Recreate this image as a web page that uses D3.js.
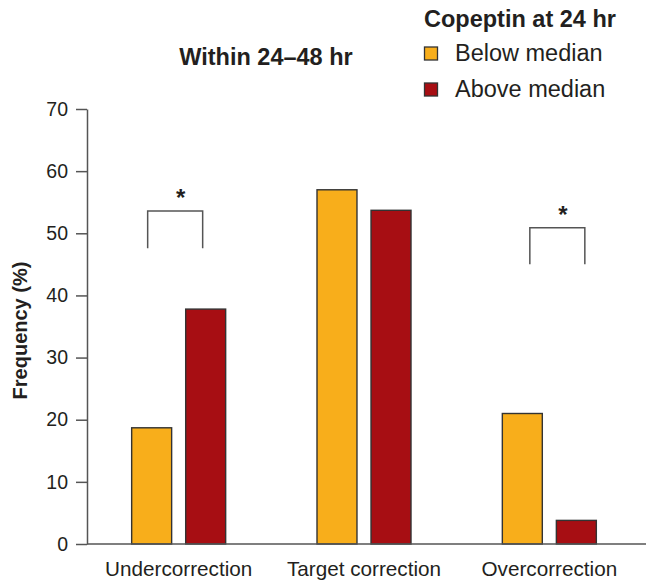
<!DOCTYPE html>
<html>
<head>
<meta charset="utf-8">
<script src="https://cdn.jsdelivr.net/npm/d3@7"></script>
<style>
  html, body { margin: 0; padding: 0; background: #fff; }
  svg { display: block; font-family: "Liberation Sans", Arial, Helvetica, sans-serif; }
</style>
</head>
<body>
<svg id="chart" width="646" height="583"></svg>
<script>
// Correction categories along the x axis
const categories = ["Undercorrection", "Target correction", "Overcorrection"];
// Copeptin groups (at 24 hr)
const seriesNames = ["Below median", "Above median"];
// Frequency (%) of each category, per group
const belowMedian = [18.7, 57.0, 21.0];
const aboveMedian = [37.8, 53.7, 3.8];
// y-axis ticks
const yTicks = [0, 10, 20, 30, 40, 50, 60, 70];
// Significance brackets: category, top and foot of the bracket (in %), label
const sigCategories = ["Undercorrection", "Overcorrection"];
const sigTop = [53.6, 50.9];
const sigFoot = [47.6, 45.0];
const sigLabel = ["*", "*"];

const colors = { "Below median": "#F8AE1B", "Above median": "#A70E13" };
const textColor = "#231f20";
const axisColor = "#555";

const svg = d3.select("#chart");

const x = d3.scaleBand().domain(categories).range([86, 642]).padding(0);
const xSub = d3.scaleBand().domain(seriesNames).range([-47, 47]).paddingInner(0.26).paddingOuter(0);
const y = d3.scaleLinear().domain([0, 70]).range([544, 109]);

const rows = [];
categories.forEach((c, i) => {
  rows.push({ cat: c, series: "Below median", value: belowMedian[i] });
  rows.push({ cat: c, series: "Above median", value: aboveMedian[i] });
});

// Bars
svg.append("g").selectAll("rect").data(rows).join("rect")
  .attr("x", d => x(d.cat) + x.bandwidth() / 2 + xSub(d.series))
  .attr("y", d => y(d.value))
  .attr("width", xSub.bandwidth())
  .attr("height", d => y(0) - y(d.value))
  .attr("fill", d => colors[d.series])
  .attr("stroke", "#333")
  .attr("stroke-width", 1.4);

// Y axis
const yAxis = svg.append("g")
  .attr("transform", "translate(87,0)")
  .call(d3.axisLeft(y).tickValues(yTicks).tickSize(11).tickPadding(8).tickSizeOuter(0));
yAxis.select(".domain").attr("stroke", axisColor).attr("stroke-width", 1.5);
yAxis.selectAll(".tick line").attr("stroke", axisColor).attr("stroke-width", 1.5);
yAxis.selectAll(".tick text")
  .attr("fill", textColor)
  .style("font-size", "19.5px")
  .style("font-family", "'Liberation Sans', Arial, sans-serif");

// X axis line and category labels
const xAxis = svg.append("g")
  .attr("transform", "translate(0,544)")
  .call(d3.axisBottom(x).tickSize(0).tickPadding(17));
xAxis.select(".domain").attr("d", "M87,0H646").attr("stroke", axisColor).attr("stroke-width", 1.5);
xAxis.selectAll(".tick text")
  .attr("fill", textColor)
  .style("font-size", "20.7px")
  .style("font-family", "'Liberation Sans', Arial, sans-serif");

// Y axis title
svg.append("text")
  .attr("transform", `translate(27,${(y(0) + y(70)) / 2 + 4}) rotate(-90)`)
  .attr("text-anchor", "middle")
  .attr("fill", textColor)
  .style("font-size", "20px")
  .style("font-weight", "bold")
  .text("Frequency (%)");

// Significance brackets
const bracketShift = { "Undercorrection": -3.5, "Overcorrection": 8 };
sigCategories.forEach((c, i) => {
  const cx = x(c) + x.bandwidth() / 2 + bracketShift[c];
  const half = 27.5;
  svg.append("path")
    .attr("d", `M${cx - half},${y(sigFoot[i])}V${y(sigTop[i])}H${cx + half}V${y(sigFoot[i])}`)
    .attr("fill", "none")
    .attr("stroke", axisColor)
    .attr("stroke-width", 1.5);
  svg.append("text")
    .attr("x", cx + 5.5)
    .attr("y", y(sigTop[i]) - 5)
    .attr("text-anchor", "middle")
    .attr("fill", textColor)
    .style("font-size", "24px")
    .style("font-weight", "bold")
    .text(sigLabel[i]);
});

// Panel title
svg.append("text")
  .attr("x", 266)
  .attr("y", 64.5)
  .attr("text-anchor", "middle")
  .attr("fill", textColor)
  .style("font-size", "23.5px")
  .style("font-weight", "bold")
  .text("Within 24\u201348 hr");

// Legend
const legend = svg.append("g").attr("transform", "translate(424,0)");
legend.append("text")
  .attr("x", 0).attr("y", 26.5)
  .attr("fill", textColor)
  .style("font-size", "23.5px")
  .style("font-weight", "bold")
  .text("Copeptin at 24 hr");
const items = legend.selectAll("g.item").data(seriesNames).join("g")
  .attr("class", "item")
  .attr("transform", (d, i) => `translate(0,${61 + i * 36})`);
items.append("rect")
  .attr("x", 0.5).attr("y", -14)
  .attr("width", 13).attr("height", 13)
  .attr("fill", d => colors[d])
  .attr("stroke", "#333")
  .attr("stroke-width", 1.3);
items.append("text")
  .attr("x", 31).attr("y", 0)
  .attr("fill", textColor)
  .style("font-size", "23.5px")
  .text(d => d);
</script>
</body>
</html>
